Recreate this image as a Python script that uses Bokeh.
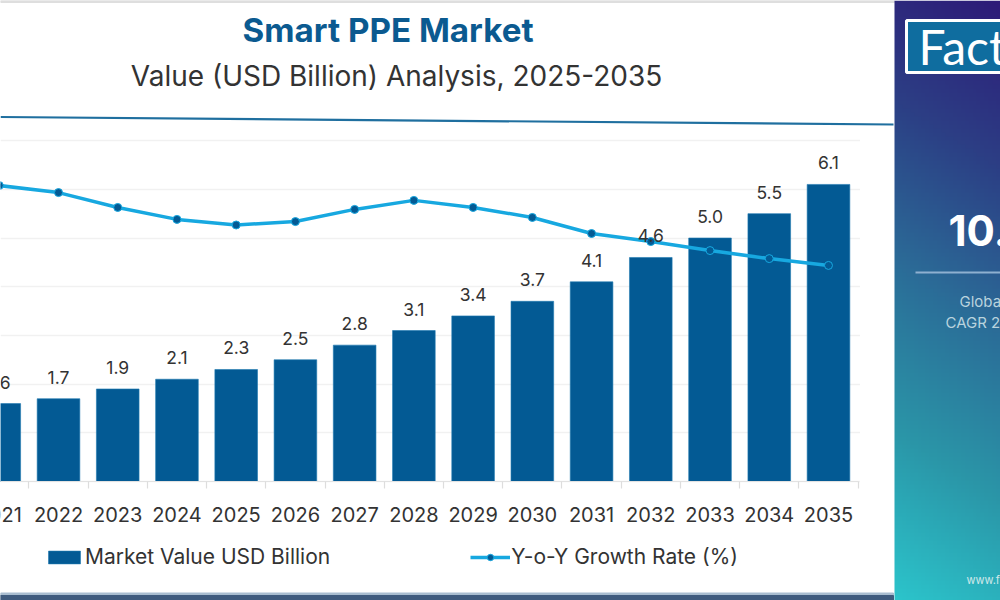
from bokeh.plotting import figure
from bokeh.embed import file_html
from bokeh.resources import INLINE
from bokeh.core.properties import value
from bokeh.models import (Range1d, LinearAxis, FixedTicker, Grid, LabelSet, Label, ColumnDataSource,
                          Legend, LegendItem)
import numpy as np

years = [2021, 2022, 2023, 2024, 2025, 2026, 2027, 2028, 2029, 2030, 2031, 2032, 2033, 2034, 2035]
market_value = [1.6, 1.7, 1.9, 2.1, 2.3, 2.5, 2.8, 3.1, 3.4, 3.7, 4.1, 4.6, 5.0, 5.5, 6.1]
yoy_growth = [12.15, 11.86, 11.25, 10.76, 10.53, 10.67, 11.17, 11.54, 11.25, 10.84, 10.18, 9.85, 9.48, 9.15, 8.87]
value_labels = ["1.6", "1.7", "1.9", "2.1", "2.3", "2.5", "2.8", "3.1", "3.4", "3.7", "4.1", "4.6", "5.0", "5.5", "6.1"]
tick_labels = ["2021", "2022", "2023", "2024", "2025", "2026", "2027", "2028", "2029", "2030", "2031", "2032", "2033", "2034", "2035"]

FONT = "Inter"
BAR = "#035a94"
W, H = 1000, 600
PX_YEAR = 59.23
PX_UNIT = 48.7
BASE_Y = 481

x_range = Range1d(2022 - 58 / PX_YEAR, 2022 + (1000 - 58) / PX_YEAR)
y_range = Range1d(-(600 - BASE_Y) / PX_UNIT, BASE_Y / PX_UNIT)

p = figure(width=W, height=H, output_backend="svg", toolbar_location=None,
           x_range=x_range, y_range=y_range, x_axis_location=None, y_axis_location=None,
           min_border=0, min_border_left=0, min_border_right=0, min_border_top=0, min_border_bottom=0,
           outline_line_color=None, background_fill_color="white", border_fill_color="white")
p.grid.visible = False

# decoration ranges: reference pixels (y negated so that it increases upward)
p.extra_x_ranges["px"] = Range1d(0, 1000)
p.extra_y_ranges["py"] = Range1d(-600, 0)
p.extra_y_ranges["growth"] = Range1d(-(600 - BASE_Y) / 24.36, BASE_Y / 24.36)

xaxis = LinearAxis(fixed_location=0, bounds=(2020.5, 2035.5),
                   ticker=FixedTicker(ticks=years, minor_ticks=[y + 0.5 for y in years]),
                   major_label_overrides={y: s for y, s in zip(years, tick_labels)},
                   axis_line_color="#e2e2e2", axis_line_width=1.2,
                   major_tick_line_color=None, minor_tick_line_color="#dddddd", minor_tick_line_width=1.2,
                   minor_tick_in=0, minor_tick_out=7, major_tick_in=0, major_tick_out=0,
                   major_label_standoff=18, major_label_text_font=FONT, major_label_text_font_size="20px",
                   major_label_text_color="#333333")
p.add_layout(xaxis, "below")
yaxis = LinearAxis(visible=False, ticker=FixedTicker(ticks=[0, 1, 2, 3, 4, 5, 6, 7]))
p.add_layout(yaxis, "left")
p.add_layout(Grid(dimension=1, axis=yaxis, grid_line_color="#f1f1f1", grid_line_width=1.5))

# mask grid to the right of the plot area
p.quad(left=[860], right=[895], bottom=[-490], top=[-130], color="white", x_range_name="px", y_range_name="py")

# top strip, header rule and bottom strip
p.quad(left=[0], right=[894], bottom=[-2], top=[0], color="#dedede", x_range_name="px", y_range_name="py")
p.line([0, 893], [-116.5, -124], line_color="#1f6f9f", line_width=2.2, x_range_name="px", y_range_name="py")
p.quad(left=[0], right=[893], bottom=[-595], top=[-592.5], color="#a9bdd0", x_range_name="px", y_range_name="py")
p.quad(left=[0], right=[893], bottom=[-600], top=[-595], color="#3f5b7e", x_range_name="px", y_range_name="py")

# gradient side panel
stops_t = [0, 0.25, 0.5, 0.75, 1]
stops_r = [0x2e, 0x2c, 0x2b, 0x2a, 0x2c]
stops_g = [0x1b, 0x3f, 0x6d, 0x96, 0xc4]
stops_b = [0x78, 0x85, 0x98, 0xa8, 0xcb]
ny, nx = 150, 27
yy, xx = np.mgrid[0:ny, 0:nx]
t = np.clip(0.9 * (1 - yy / (ny - 1)) + 0.1 * (1 - xx / (nx - 1)), 0, 1)
img = np.zeros((ny, nx), dtype=np.uint32)
v = img.view(dtype=np.uint8).reshape((ny, nx, 4))
v[..., 0] = np.interp(t, stops_t, stops_r)
v[..., 1] = np.interp(t, stops_t, stops_g)
v[..., 2] = np.interp(t, stops_t, stops_b)
v[..., 3] = 255
p.image_rgba(image=[img], x=[894], y=[-600], dw=[106], dh=[600], x_range_name="px", y_range_name="py")

# logo box
p.quad(left=[906], right=[1010], bottom=[-72], top=[-20], fill_color="#0f6d9f", line_color="white", line_width=3,
       x_range_name="px", y_range_name="py")
# panel rule
p.line([915, 1000], [-272, -272], line_color="#8fb0d0", line_width=2, x_range_name="px", y_range_name="py")

source = ColumnDataSource(dict(year=years, value=market_value, growth=yoy_growth, label=value_labels))

bars = p.vbar(x="year", top="value", bottom=0, width=0.72, source=source, fill_color=BAR, line_color="#1f78b0", line_width=0.6)
line = p.line(x="year", y="growth", source=source, line_color="#17a8e0", line_width=3.5, y_range_name="growth")
dots = p.scatter(x="year", y="growth", source=source, size=8, fill_color=BAR, line_color="#17a8e0", line_width=1, y_range_name="growth")

p.add_layout(LabelSet(x="year", y="value", text="label", source=source, y_offset=15, text_align="center",
                      text_baseline="bottom", text_font=value(FONT), text_font_size=value("17.5px"), text_color="#333333"))

# the first year's tick label lies off the left edge, so the axis skips it
p.add_layout(Label(x=years[0], y=-(514 - BASE_Y) / PX_UNIT, text=tick_labels[0], text_align="center",
                   text_baseline="middle", text_font=FONT, text_font_size="20px", text_color="#333333"))

legend = Legend(items=[LegendItem(label="Market Value USD Billion", renderers=[bars]),
                       LegendItem(label="Y-o-Y Growth Rate (%)", renderers=[line, dots])],
                orientation="horizontal", location=(44, 31), padding=0, margin=0, spacing=140,
                border_line_color=None, background_fill_alpha=0, glyph_width=40, glyph_height=16,
                label_standoff=1, label_text_font=FONT, label_text_font_size="21px", label_text_color="#333333")
p.add_layout(legend, "center")

def txt(s, x, y, size, color, style="normal", align="left", font=FONT):
    p.add_layout(Label(x=x, y=600 - y, x_units="screen", y_units="screen", text=s, text_font=font,
                       text_font_size=size, text_color=color, text_font_style=style, text_align=align,
                       text_baseline="middle"))

txt("Smart PPE Market", 387.5, 29, "33.2px", "#0b5a90", "bold", "center")
txt("Value (USD Billion) Analysis, 2025-2035", 396, 75, "28px", "#333333", "normal", "center")
txt("Fact", 918, 46, "48px", "white", font="Lato")
txt("10.", 948, 230, "42px", "white", "bold")
txt("Globa", 959, 301, "15px", "#b9d3de")
txt("CAGR 2", 945, 322, "15px", "#b9d3de")
txt("www.f", 966, 579, "11px", "#cfe8ea")

open("out.html", "w").write(file_html(p, INLINE))
